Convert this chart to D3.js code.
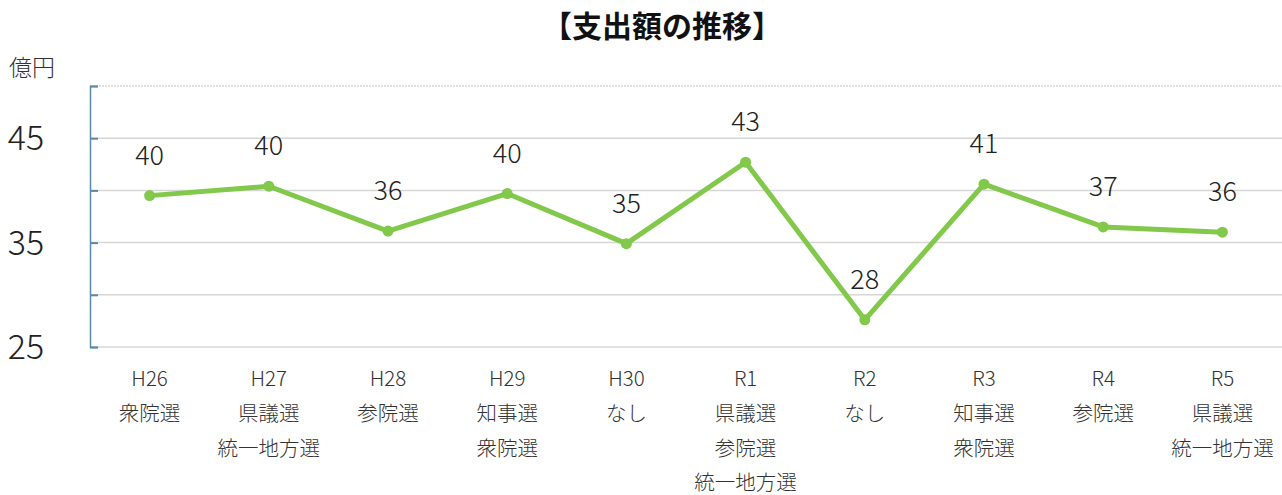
<!DOCTYPE html>
<html>
<head>
  <meta charset="UTF-8">
  <script src="https://d3js.org/d3.v7.min.js"></script>
  <style>
    body { margin: 0; background: #fff; }
    text { font-family: "Noto Sans CJK JP", "Noto Sans", sans-serif; }
  </style>
</head>
<body>
  <svg id="chart" width="1282" height="495"></svg>
  <script>
    // data
    let years = ["H26", "H27", "H28", "H29", "H30", "R1", "R2", "R3", "R4", "R5"];
    let elections = [
      ["衆院選"],
      ["県議選", "統一地方選"],
      ["参院選"],
      ["知事選", "衆院選"],
      ["なし"],
      ["県議選", "参院選", "統一地方選"],
      ["なし"],
      ["知事選", "衆院選"],
      ["参院選"],
      ["県議選", "統一地方選"]
    ];
    let spending = [39.5, 40.4, 36.1, 39.7, 34.9, 42.7, 27.6, 40.6, 36.5, 36.0];
    let spendingLabels = ["40", "40", "36", "40", "35", "43", "28", "41", "37", "36"];
    let yTicks = [25, 30, 35, 40, 45, 50];
    let yTickLabels = [25, 35, 45];

    let margin = { top: 86, right: 0, bottom: 148, left: 90 };
    let svg = d3.select("#chart");
    let width = +svg.attr("width");
    let height = +svg.attr("height");

    let xScale = d3.scaleBand()
      .domain(years)
      .range([margin.left, width - margin.right]);

    let yScale = d3.scaleLinear()
      .domain([25, 50])
      .range([height - margin.bottom, margin.top]);

    // title
    svg.append("text")
      .attr("x", 662)
      .attr("y", 37)
      .attr("text-anchor", "middle")
      .attr("font-size", 30)
      .attr("font-weight", "bold")
      .attr("fill", "#111")
      .text("【支出額の推移】");

    svg.append("text")
      .attr("x", 9)
      .attr("y", 76)
      .attr("font-size", 23)
      .attr("font-weight", 300)
      .attr("fill", "#333")
      .text("億円");

    // gridlines
    svg.append("g")
      .selectAll("line")
      .data(yTicks)
      .join("line")
      .attr("x1", margin.left)
      .attr("x2", width)
      .attr("y1", d => yScale(d))
      .attr("y2", d => yScale(d))
      .attr("stroke", "#d6d6d6")
      .attr("stroke-width", 1.5)
      .attr("stroke-dasharray", d => d == 50 ? "2,1" : null);

    // y axis
    let yAxis = d3.axisRight(yScale)
      .tickValues(yTicks)
      .tickSize(8)
      .tickFormat("");

    let yg = svg.append("g")
      .attr("transform", `translate(${margin.left}, 0)`)
      .call(yAxis);
    yg.select(".domain").attr("stroke", "#5a8aa6").attr("stroke-width", 1.5);
    yg.selectAll(".tick line").attr("stroke", "#5a8aa6").attr("stroke-width", 2);

    svg.append("g")
      .selectAll("text")
      .data(yTickLabels)
      .join("text")
      .attr("x", 26)
      .attr("y", d => yScale(d))
      .attr("dy", "0.36em")
      .attr("text-anchor", "middle")
      .attr("font-size", 34)
      .attr("font-weight", 300)
      .attr("fill", "#222")
      .text(d => d);

    // x labels
    let cx = d => xScale(d) + xScale.bandwidth() / 2;
    let xl = svg.append("g")
      .selectAll("text")
      .data(years)
      .join("text")
      .attr("x", d => cx(d))
      .attr("y", 386)
      .attr("text-anchor", "middle")
      .attr("font-size", 20.5)
      .attr("font-weight", 300)
      .attr("fill", "#333");
    xl.each(function(d, i) {
      let lines = [d].concat(elections[i]);
      d3.select(this).selectAll("tspan")
        .data(lines)
        .join("tspan")
        .attr("x", cx(d))
        .attr("dy", (t, j) => j == 0 ? 0 : 34.8)
        .text(t => t);
    });

    // line
    let line = d3.line()
      .x((d, i) => cx(years[i]))
      .y(d => yScale(d));

    svg.append("path")
      .datum(spending)
      .attr("d", line)
      .attr("fill", "none")
      .attr("stroke", "#82c84a")
      .attr("stroke-width", 5)
      .attr("stroke-linejoin", "round");

    svg.append("g")
      .selectAll("circle")
      .data(spending)
      .join("circle")
      .attr("cx", (d, i) => cx(years[i]))
      .attr("cy", d => yScale(d))
      .attr("r", 5.5)
      .attr("fill", "#82c84a");

    svg.append("g")
      .selectAll("text")
      .data(spending)
      .join("text")
      .attr("x", (d, i) => cx(years[i]))
      .attr("y", d => yScale(d) - 31)
      .attr("text-anchor", "middle")
      .attr("font-size", 27)
      .attr("font-weight", 300)
      .attr("fill", "#222")
      .text((d, i) => spendingLabels[i]);
  </script>
</body>
</html>
